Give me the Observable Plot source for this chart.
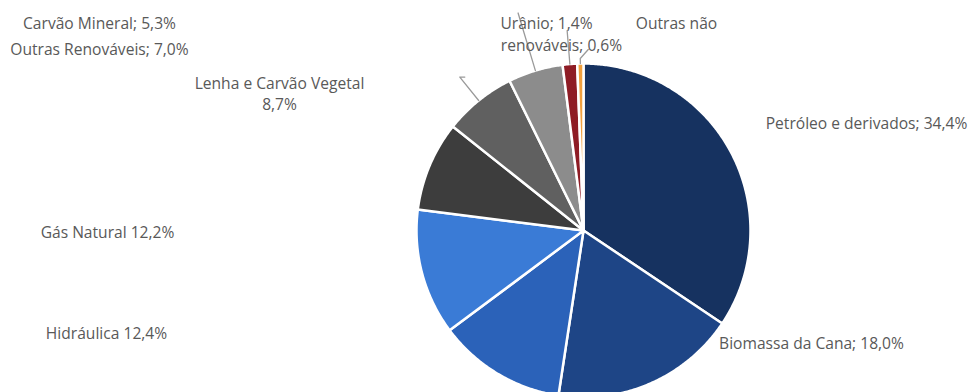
<!DOCTYPE html>
<html>
<head>
<meta charset="utf-8">
<script src="https://cdn.jsdelivr.net/npm/d3@7"></script>
<script src="https://cdn.jsdelivr.net/npm/@observablehq/plot@0.6"></script>
<style>
  html, body { margin: 0; padding: 0; background: #ffffff; overflow: hidden; }
  #chart svg { display: block; }
</style>
</head>
<body>
<div id="chart"></div>
<script>
// ---- data ----
const sources = ["Petróleo e derivados", "Biomassa da Cana", "Hidráulica", "Gás Natural",
  "Lenha e Carvão Vegetal", "Outras Renováveis", "Carvão Mineral", "Urânio", "Outras não renováveis"];
const shares = [34.4, 18.0, 12.4, 12.2, 8.7, 7.0, 5.3, 1.4, 0.6];
const sliceColors = ["#163260", "#1e4586", "#2b62b9", "#3a7bd6", "#3d3d3d", "#606060", "#8c8c8c", "#8e1c25", "#f2a13e"];

// label texts (as shown in the chart)
const labelLines = ["Petróleo e derivados; 34,4%", "Biomassa da Cana; 18,0%", "Hidráulica 12,4%",
  "Gás Natural 12,2%", "Lenha e Carvão Vegetal", "8,7%", "Outras Renováveis; 7,0%",
  "Carvão Mineral; 5,3%", "Urânio; 1,4%", "Outras não", "renováveis; 0,6%"];

// ---- layout (pixels) ----
const W = 969, H = 392;
const cx = 583, cy = 230, R = 167;
const labelX = [866, 811, 106, 107, 279, 279, 99, 99, 546, 676, 561];
const labelY = [123, 343, 333, 232, 83, 104, 49, 23, 23, 23, 45];
// leader lines: slice index, inner / outer radius factor, tail offset (px)
const leaders = [
  {i: 5, r1: 1.0, r2: 1.18, dx: 5, dy: 0},
  {i: 6, r1: 1.0, r2: 1.36, dx: 0, dy: 0},
  {i: 7, r1: 1.0, r2: 1.2, dx: 0, dy: 0},
  {i: 8, r1: 1.0, r2: 1.03, dx: 8, dy: -9}
];

// ---- geometry from data ----
const total = d3.sum(shares);
let acc = 0;
const slices = sources.map((name, i) => {
  const a0 = acc / total * 360;
  acc += shares[i];
  const a1 = acc / total * 360;
  return {name, a0, a1, mid: (a0 + a1) / 2};
});
const pt = (deg, r) => {
  const a = deg * Math.PI / 180;
  return [cx + r * Math.sin(a), cy - r * Math.cos(a)];
};
const polyPts = [];
for (const s of slices) {
  const n = Math.max(4, Math.ceil((s.a1 - s.a0) / 0.5));
  polyPts.push({name: s.name, px: cx, py: cy});
  for (let k = 0; k <= n; k++) {
    const [px, py] = pt(s.a0 + (s.a1 - s.a0) * k / n, R);
    polyPts.push({name: s.name, px, py});
  }
  polyPts.push({name: s.name, px: cx, py: cy});
}
const leaderPts = [];
leaders.forEach((l, j) => {
  const s = slices[l.i];
  const g = "L" + j;
  const [x1, y1] = pt(s.mid, R * l.r1), [x2, y2] = pt(s.mid, R * l.r2);
  leaderPts.push({g, px: x1, py: y1}, {g, px: x2, py: y2});
  if (l.dx || l.dy) leaderPts.push({g, px: x2 + l.dx, py: y2 + l.dy});
});
const labels = labelLines.map((t, i) => ({t, x: labelX[i], y: labelY[i]}));

const chart = Plot.plot({
  width: W,
  height: H,
  margin: 0,
  style: {background: "#ffffff", fontFamily: "'Open Sans', sans-serif"},
  x: {domain: [0, W], range: [0, W], axis: null},
  y: {domain: [0, H], range: [0, H], axis: null},
  color: {domain: sources, range: sliceColors},
  marks: [
    Plot.line(polyPts, {x: "px", y: "py", z: "name", fill: "name",
      stroke: "#ffffff", strokeWidth: 2.5, strokeLinejoin: "round", curve: "linear"}),
    Plot.line(leaderPts, {x: "px", y: "py", z: "g", stroke: "#9a9a9a", strokeWidth: 1.3, curve: "linear"}),
    Plot.text(labels, {x: "x", y: "y", text: "t", fontSize: 15.6, fill: "#595959",
      textAnchor: "middle", lineAnchor: "middle"})
  ]
});
document.getElementById("chart").appendChild(chart);
</script>
</body>
</html>
